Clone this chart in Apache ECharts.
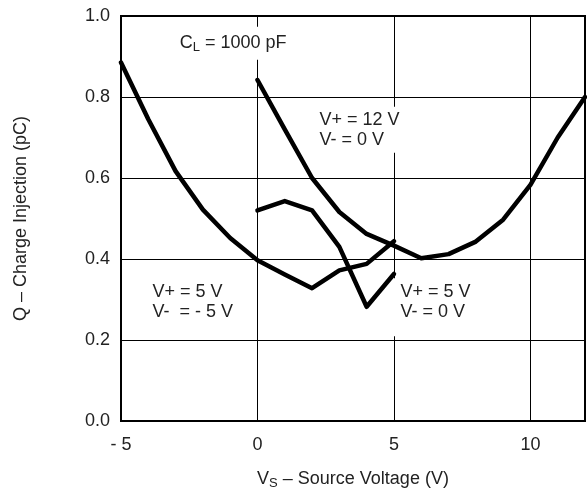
<!DOCTYPE html>
<html>
<head>
<meta charset="utf-8">
<script src="https://cdn.jsdelivr.net/npm/echarts@6/dist/echarts.min.js"></script>
<style>
  html, body { margin: 0; padding: 0; background: #fff; }
  #chart { width: 587px; height: 491px; }
</style>
</head>
<body>
<div id="chart"></div>
<script>
// source voltage (V) and charge injection (pC)
const vsNeg5X = [-5, -4, -3, -2, -1, 0, 1, 2, 3, 4, 5];
const vsNeg5Q = [0.885, 0.745, 0.617, 0.522, 0.452, 0.397, 0.362, 0.328, 0.372, 0.388, 0.444];

const vs12X = [0, 1, 2, 3, 4, 5, 6, 7, 8, 9, 10, 11, 12];
const vs12Q = [0.842, 0.72, 0.60, 0.516, 0.462, 0.433, 0.402, 0.412, 0.443, 0.497, 0.583, 0.70, 0.80];

const vs5X = [0, 1, 2, 3, 4, 5];
const vs5Q = [0.52, 0.543, 0.52, 0.43, 0.282, 0.363];

const xTicks = [-5, 0, 5, 10];

const font = 'Liberation Sans, Arial, Helvetica, sans-serif';
const txt = '#222';

const zip = (xs, ys) => xs.map((x, i) => [x, ys[i]]);

const chart = echarts.init(document.getElementById('chart'));

function curve(name, xs, ys) {
  return {
    name: name,
    type: 'line',
    data: zip(xs, ys),
    showSymbol: false,
    z: 5,
    lineStyle: { color: '#000', width: 4.5, join: 'round', cap: 'round' }
  };
}

chart.setOption({
  animation: false,
  backgroundColor: '#fff',
  grid: {
    left: 121, right: 2, top: 16, bottom: 70,
    outerBoundsMode: 'none',
    show: true, borderColor: '#000', borderWidth: 2
  },
  xAxis: {
    type: 'value',
    min: -5, max: 12, interval: 5,
    axisLine: { show: false },
    axisTick: { show: false },
    splitLine: { show: true, lineStyle: { color: '#000', width: 1 } },
    axisLabel: {
      margin: 15, fontSize: 18, color: txt, fontFamily: font,
      formatter: v => xTicks.indexOf(v) < 0 ? '' : (v < 0 ? '- ' + Math.abs(v) : String(v))
    },
    name: '{a|V}{s|S}{a| – Source Voltage (V)}',
    nameLocation: 'middle',
    nameGap: 48,
    nameTextStyle: {
      rich: {
        a: { fontSize: 18, color: txt, fontFamily: font },
        s: { fontSize: 13, color: txt, fontFamily: font, padding: [8, 0, 0, 0] }
      }
    }
  },
  yAxis: {
    type: 'value',
    min: 0, max: 1, interval: 0.2,
    axisLine: { show: false },
    axisTick: { show: false },
    splitLine: { show: true, lineStyle: { color: '#000', width: 1 } },
    axisLabel: {
      margin: 11, fontSize: 18, color: txt, fontFamily: font,
      formatter: v => v.toFixed(1)
    },
    name: 'Q – Charge Injection (pC)',
    nameLocation: 'middle',
    nameGap: 91,
    nameTextStyle: { fontSize: 18, color: txt, fontFamily: font }
  },
  series: [
    curve('V+ = 5 V, V- = -5 V', vsNeg5X, vsNeg5Q),
    curve('V+ = 12 V, V- = 0 V', vs12X, vs12Q),
    curve('V+ = 5 V, V- = 0 V', vs5X, vs5Q)
  ]
});

// annotations anchored in data coordinates
const notes = [
  { at: [-2.85, 0.933], text: '{a|C}{s|L}{a| = 1000 pF}', pad: [6, 4, 6, 4] },
  { at: [2.27, 0.719], text: '{a|V+ = 12 V}\n{a|V- = 0 V}', pad: [3, 4, 3, 4] },
  { at: [5.24, 0.281], text: '{a|V+ = 5 V}\n{a|V- = 0 V}', pad: [4, 4, 14, 10] },
  { at: [-3.85, 0.293], text: '{a|V+ = 5 V}\n{a|V-  = - 5 V}', pad: [3, 4, 3, 4] }
];

chart.setOption({
  graphic: notes.map(n => {
    const p = chart.convertToPixel({ gridIndex: 0 }, n.at);
    return {
      type: 'text',
      x: p[0] - n.pad[3], y: p[1],
      z: 3,
      style: {
        text: n.text,
        verticalAlign: 'middle',
        backgroundColor: '#fff',
        padding: n.pad,
        rich: {
          a: { fontSize: 18, lineHeight: 20, fill: txt, fontFamily: font },
          s: { fontSize: 13, fill: txt, fontFamily: font, padding: [8, 0, 0, 0] }
        }
      }
    };
  })
});
</script>
</body>
</html>
